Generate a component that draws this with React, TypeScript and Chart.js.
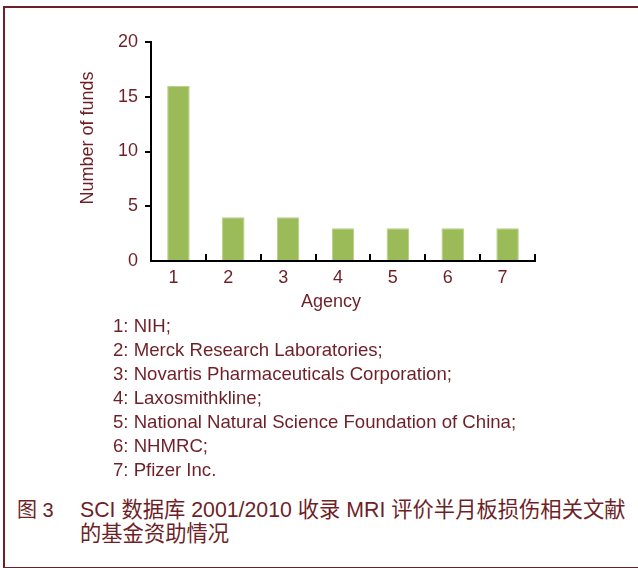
import React, { useEffect, useRef } from "react";
import { Chart, registerables } from "chart.js";

Chart.register(...registerables);

const categories = ["1", "2", "3", "4", "5", "6", "7"];
const fundCounts = [16, 4, 4, 3, 3, 3, 3];
const agencyNames = [
  "1: NIH;",
  "2: Merck Research Laboratories;",
  "3: Novartis Pharmaceuticals Corporation;",
  "4: Laxosmithkline;",
  "5: National Natural Science Foundation of China;",
  "6: NHMRC;",
  "7: Pfizer Inc.",
];
const yTitle = "Number of funds";
const xTitle = "Agency";
const captionLabel = "图 3";
const captionLine1 = "SCI 数据库 2001/2010 收录 MRI 评价半月板损伤相关文献";
const captionLine2 = "的基金资助情况";

const MAROON = "#6e1f27";
const GREEN = "#9bbb59";
const FONT = "'Liberation Sans', Arial, 'Noto Sans CJK SC', sans-serif";

const axisPlugin = {
  id: "axisDecor",
  afterDraw(chart: any) {
    const ctx = chart.ctx;
    const x = chart.scales.x;
    const area = chart.chartArea;
    const half = (x.getPixelForValue(1) - x.getPixelForValue(0)) / 2;
    ctx.save();
    ctx.strokeStyle = "#000";
    ctx.lineWidth = 2;
    for (let i = 0; i < categories.length; i++) {
      const px = Math.round(x.getPixelForValue(i) + half);
      ctx.beginPath();
      ctx.moveTo(px, area.bottom);
      ctx.lineTo(px, area.bottom - 7);
      ctx.stroke();
    }
    ctx.fillStyle = MAROON;
    ctx.font = "18px " + FONT;
    ctx.textAlign = "center";
    ctx.textBaseline = "middle";
    ctx.fillText(xTitle, 331, 302);
    ctx.translate(88, 138);
    ctx.rotate(-Math.PI / 2);
    ctx.fillText(yTitle, 0, 0);
    ctx.restore();
  },
};

function ChartView() {
  const ref = useRef<HTMLCanvasElement>(null);
  useEffect(() => {
    if (!ref.current) return;
    const chart = new Chart(ref.current, {
      type: "bar",
      data: {
        labels: categories,
        datasets: [
          {
            data: fundCounts,
            backgroundColor: GREEN,
            borderColor: "#b5cf85",
            borderWidth: 1,
            barPercentage: 0.82,
            categoryPercentage: 0.5,
          },
        ],
      },
      options: {
        animation: false,
        responsive: false,
        devicePixelRatio: 1,
        layout: { padding: { left: 0, top: 42, right: 103, bottom: 0 } },
        plugins: { legend: { display: false }, tooltip: { enabled: false } },
        scales: {
          x: {
            afterFit: (s: any) => {
              s.height = 59;
            },
            grid: { display: false },
            border: { display: true, color: "#000", width: 2 },
            ticks: {
              color: MAROON,
              font: { size: 18, family: FONT },
              padding: -2,
              labelOffset: -5,
            },
          },
          y: {
            min: 0,
            max: 20,
            afterFit: (s: any) => {
              s.width = 151;
            },
            ticks: {
              stepSize: 5,
              color: MAROON,
              font: { size: 18, family: FONT },
              padding: 7,
            },
            grid: {
              drawOnChartArea: false,
              drawTicks: true,
              tickLength: 6,
              lineWidth: 2,
              color: (c: any) => (c.tick && c.tick.value === 0 ? "rgba(0,0,0,0)" : "#000"),
            },
            border: { display: true, color: "#000", width: 2 },
          },
        },
      },
      plugins: [axisPlugin],
    });
    return () => chart.destroy();
  }, []);
  return (
    <canvas
      ref={ref}
      width={638}
      height={320}
      style={{ position: "absolute", left: 0, top: 0, width: 638, height: 320 }}
    />
  );
}

export default function App() {
  return (
    <div
      style={{
        position: "fixed",
        left: 0,
        top: 0,
        width: 638,
        height: 568,
        background: "#fff",
        overflow: "hidden",
        fontFamily: FONT,
        color: MAROON,
      }}
    >
      <div
        style={{
          position: "absolute",
          left: 3,
          top: 6,
          width: 700,
          height: 559,
          borderLeft: `2px solid ${MAROON}`,
          borderTop: `2px solid ${MAROON}`,
          borderBottom: `2px solid ${MAROON}`,
        }}
      />
      <ChartView />
      <div style={{ position: "absolute", left: 113, top: 314, fontSize: 18.6, lineHeight: "24px" }}>
        {agencyNames.map((n) => (
          <div key={n} style={{ whiteSpace: "nowrap" }}>
            {n}
          </div>
        ))}
      </div>
      <div style={{ position: "absolute", left: 17, top: 498, fontSize: 20, lineHeight: "24px", whiteSpace: "nowrap" }}>
        {captionLabel}
      </div>
      <div style={{ position: "absolute", left: 80, top: 498, fontSize: 21.3, lineHeight: "24px", whiteSpace: "nowrap" }}>
        <div>{captionLine1}</div>
        <div>{captionLine2}</div>
      </div>
    </div>
  );
}
